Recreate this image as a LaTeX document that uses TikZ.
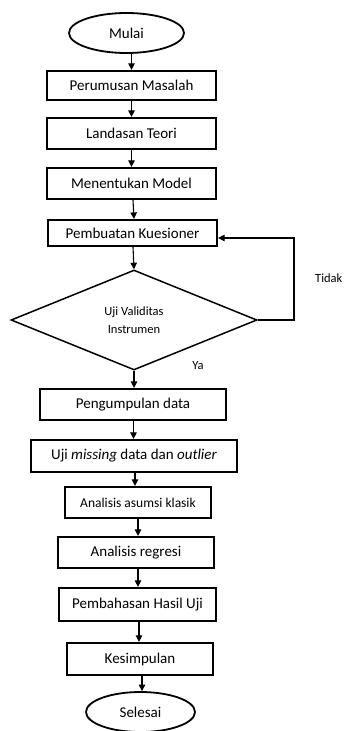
\documentclass[tikz,border=0pt]{standalone}
\usepackage{fontspec}
\setmainfont{Carlito}
\usetikzlibrary{shapes.geometric,arrows.meta}
\begin{document}
\begin{tikzpicture}[x=1pt,y=-1pt,
  stepbox/.style={draw,line width=2.2pt,inner sep=0pt,font=\fontsize{15}{17}\selectfont},
  term/.style={draw,ellipse,line width=1.8pt,inner sep=0pt,font=\fontsize{15}{17}\selectfont},
  arr/.style={line width=1.1pt,-{Triangle[length=6.5pt,width=6.5pt]}},
  lbl/.style={font=\fontsize{12.5}{14}\selectfont,inner sep=0pt}]
\useasboundingbox (0,0) rectangle (344,731);
\node[term,minimum width=115pt,minimum height=40pt] (mulai) at (126.5,33) {Mulai};
\node[stepbox,minimum width=169pt,minimum height=29pt] (p1) at (131.5,85.5) {Perumusan Masalah};
\node[stepbox,minimum width=169pt,minimum height=31pt] (p2) at (131.5,133.5) {Landasan Teori};
\node[stepbox,minimum width=169pt,minimum height=31pt] (p3) at (131.5,183.5) {Menentukan Model};
\node[stepbox,minimum width=169pt,minimum height=26pt] (p4) at (132.5,233) {Pembuatan Kuesioner};
\node[draw,diamond,line width=1.5pt,inner sep=0pt,minimum width=246pt,minimum height=100pt,
  font=\fontsize{12.5}{18}\selectfont,align=center] (d) at (134,320) {Uji Validitas\\Instrumen};
\node[stepbox,minimum width=186pt,minimum height=31pt] (p5) at (133,404.5) {Pengumpulan data};
\node[stepbox,minimum width=206pt,minimum height=32pt] (p6) at (134,456) {Uji \textit{missing} data dan \textit{outlier}};
\node[stepbox,minimum width=146pt,minimum height=31pt,font=\fontsize{13.5}{15}\selectfont] (p7) at (138,502.5) {Analisis asumsi klasik};
\node[stepbox,minimum width=156pt,minimum height=31pt] (p8) at (136,552.5) {Analisis regresi};
\node[stepbox,minimum width=157pt,minimum height=33pt] (p9) at (137.5,604.5) {Pembahasan Hasil Uji};
\node[stepbox,minimum width=146pt,minimum height=32pt] (p10) at (140,659) {Kesimpulan};
\node[term,minimum width=109pt,minimum height=40pt] (selesai) at (140.5,712) {Selesai};
\node[lbl,anchor=west] (tidak) at (315,278) {Tidak};
\node[lbl] (ya) at (198,366) {Ya};
\coordinate (c) at (294,238);
\draw[arr] (mulai.south) -- (p1.north |- mulai.south) -- (p1.north);
\draw[arr] (p1.south) -- (p2.north);
\draw[arr] (p2.south) -- (p3.north);
\draw[arr] ([xshift=1.5pt]p3.south) -- ([xshift=1.5pt]p4.north);
\draw[arr] ([xshift=0.5pt]p4.south) -- (d.north);
\draw[arr] (d.south) -- (d.south |- p5.north);
\draw[arr] ([xshift=0.5pt]p5.south) -- ([xshift=0.5pt]p5.south |- p6.north);
\draw[arr] ([xshift=1pt]p6.south) -- ([xshift=1pt]p6.south |- p7.north);
\draw[arr] (p7.south) -- (p7.south |- p8.north);
\draw[arr] ([xshift=2pt]p8.south) -- ([xshift=2pt]p8.south |- p9.north);
\draw[arr] ([xshift=1.5pt]p9.south) -- ([xshift=1.5pt]p9.south |- p10.north);
\draw[arr] ([xshift=2pt]p10.south) -- ([xshift=2pt]p10.south |- selesai.north);
\draw[arr] (d.east) -| (c) -- (p4.east |- c);
\end{tikzpicture}
\end{document}
